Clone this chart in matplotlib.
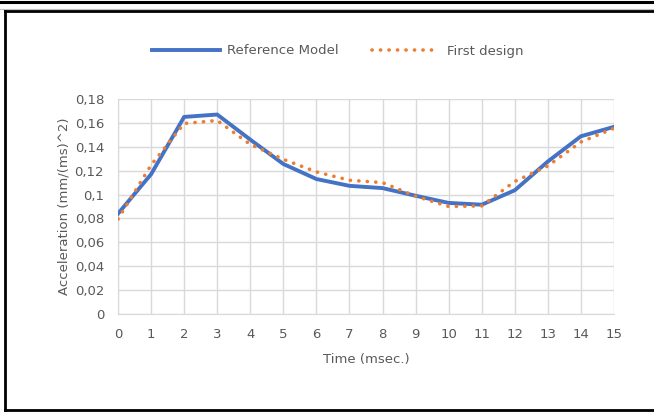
import matplotlib.pyplot as plt
from matplotlib.lines import Line2D
from matplotlib.ticker import FuncFormatter, MultipleLocator

plt.rcParams['font.family'] = ['DejaVu Sans']

tiempo = list(range(16))
reference_model = [0.084, 0.117, 0.165, 0.167, 0.146, 0.1256, 0.113, 0.1073, 0.1054, 0.099,
                   0.093, 0.0915, 0.1036, 0.1277, 0.1488, 0.1567]
first_design = [0.0795, 0.1247, 0.1595, 0.162, 0.142, 0.1295, 0.119, 0.112, 0.110, 0.0986,
                0.090, 0.0905, 0.111, 0.124, 0.144, 0.1555]

color_texto = '#595959'
color_grid = '#D9D9D9'
fs = 9.5

fig = plt.figure(figsize=(6.54, 4.12), dpi=100)
ax = fig.add_axes([118 / 654, 1 - 314 / 412, 496 / 654, 215 / 412])

ax.plot(tiempo, reference_model, color='#4472C4', linewidth=2.8, label='Reference Model',
        solid_joinstyle='round', zorder=3)
ax.plot(tiempo, first_design, color='#ED7D31', linewidth=2.6, linestyle=(0, (0.05, 2.3)),
        dash_capstyle='round', label='First design', zorder=4)

ax.set_xlim(0, 15)
ax.set_ylim(0, 0.18)
ax.xaxis.set_major_locator(MultipleLocator(1))
ax.yaxis.set_major_locator(MultipleLocator(0.02))
ax.yaxis.set_major_formatter(FuncFormatter(lambda v, p: f'{v:.2f}'.rstrip('0').rstrip('.').replace('.', ',') if v else '0'))

ax.grid(True, color=color_grid, linewidth=1)
ax.set_axisbelow(True)
for lado in ['top', 'right']:
    ax.spines[lado].set_visible(False)
for lado in ['left', 'bottom']:
    ax.spines[lado].set_color(color_grid)
ax.tick_params(length=0, labelsize=fs, colors=color_texto)
ax.tick_params(axis='x', pad=10)
ax.tick_params(axis='y', pad=10)

ax.set_xlabel('Time (msec.)', fontsize=fs, color=color_texto, labelpad=9)
ax.set_ylabel('Acceleration (mm/(ms)^2)', fontsize=fs, color=color_texto, labelpad=3)

fig.legend(loc='center', bbox_to_anchor=(338 / 654, 1 - 51 / 412), ncol=2, frameon=False,
           fontsize=fs, labelcolor=color_texto, handlelength=5.1, columnspacing=2.5,
           handletextpad=0.6)

# marco negro alrededor del grafico
fig.add_artist(Line2D([0, 1], [1 - 1.5 / 412] * 2, color='black', linewidth=2.2, transform=fig.transFigure))
fig.add_artist(Line2D([0, 1], [1 - 9 / 412] * 2, color='#BFBFBF', linewidth=0.8, transform=fig.transFigure))
fig.add_artist(Line2D([5 / 654, 1], [1 - 11 / 412] * 2, color='black', linewidth=2.0, transform=fig.transFigure))
fig.add_artist(Line2D([5 / 654, 5 / 654], [1 - 11 / 412, 2 / 412], color='black', linewidth=2.0, transform=fig.transFigure))
fig.add_artist(Line2D([5 / 654, 1], [2 / 412] * 2, color='black', linewidth=2.0, transform=fig.transFigure))

fig.savefig('out.png', dpi=100)
